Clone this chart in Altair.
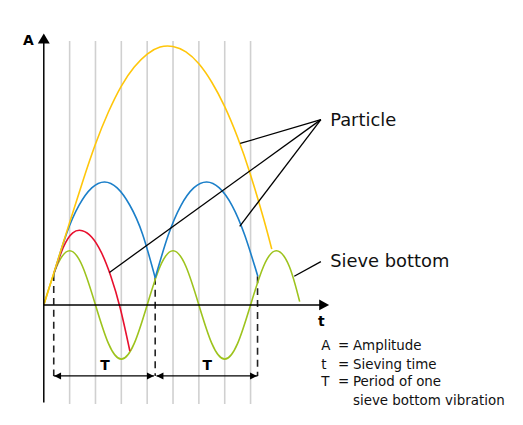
import altair as alt
import pandas as pd

# ---- data (t in quarter-periods of the sieve vibration, A in sieve amplitudes) ----
sieve_t = [0, 0.5, 1, 1.5, 2, 2.5, 3, 3.5, 4, 4.5, 5, 5.5, 6, 6.5, 7, 7.5, 8, 8.5, 9, 9.5, 9.9]
sieve_a = [0, 0.71, 1, 0.71, 0, -0.71, -1, -0.71, 0, 0.71, 1, 0.71, 0, -0.71, -1, -0.71, 0, 0.71, 1, 0.71, 0.06]

red_t = [0.385, 0.753, 1.121, 1.489, 1.858, 2.226, 2.594, 2.963, 3.33]
red_a = [0.57, 1.06, 1.33, 1.37, 1.25, 0.97, 0.53, -0.07, -0.85]

blue1_t = [0.385, 0.876, 1.366, 1.857, 2.348, 2.838, 3.329, 3.819, 4.31]
blue1_a = [0.57, 1.31, 1.84, 2.16, 2.27, 2.16, 1.84, 1.31, 0.50]
blue2_t = [4.31, 4.81, 5.30, 5.80, 6.30, 6.79, 7.29, 7.78, 8.28]
blue2_a = [0.50, 1.28, 1.83, 2.16, 2.27, 2.16, 1.83, 1.28, 0.53]

yellow_t = [0, 0.5, 1, 1.5, 2, 2.5, 3, 3.5, 4, 4.5, 5, 5.5, 6, 6.5, 7, 7.5, 8, 8.5, 8.82]
yellow_a = [0, 0.76, 1.52, 2.27, 2.97, 3.56, 4.04, 4.39, 4.63, 4.76, 4.77, 4.67, 4.45, 4.11,
            3.66, 3.09, 2.40, 1.60, 1.03]

grid_t = [1, 2, 3, 4, 5, 6, 7, 8]
contact_t = [0.385, 4.31, 8.27]
contact_a = [0.57, 0.50, 0.53]

pointer_from = [(10.72, 3.42), (10.72, 3.42), (10.72, 3.42), (10.72, 0.80)]
pointer_to = [(7.60, 2.98), (2.54, 0.60), (7.58, 1.45), (9.69, 0.53)]

labels = ["Particle", "Sieve bottom"]
label_pos = [(11.08, 3.40), (11.08, 0.80)]

legend_sym = ["A", "t", "T"]
legend_txt = ["Amplitude", "Sieving time", "Period of one", "sieve bottom vibration"]
legend_a = [-0.756, -1.105, -1.428, -1.776]

# ---- geometry of the view ----
W, H = 510, 400
PX_T, PX_A = 26.0, 54.5
t_min = -36 / PX_T
t_max = t_min + W / PX_T
a_max = 297.5 / PX_A
a_min = a_max - H / PX_A
X = alt.Scale(domain=[t_min, t_max], nice=False, zero=False)
Y = alt.Scale(domain=[a_min, a_max], nice=False, zero=False)
FONT = "DejaVu Sans"
A_BOT = -1.31  # level of the period arrows


def xenc(f="t"):
    return alt.X(f"{f}:Q", scale=X, axis=None)


def yenc(f="a"):
    return alt.Y(f"{f}:Q", scale=Y, axis=None)


# grid
grid_df = pd.DataFrame({"t": grid_t, "a": [-1.83] * 8, "a2": [4.87] * 8})
grid = alt.Chart(grid_df).mark_rule(color="#d0d0d0", strokeWidth=1.6).encode(
    x=xenc(), y=yenc(), y2="a2:Q")

# dashed contact lines
dash_df = pd.DataFrame({"t": contact_t, "a": contact_a, "a2": [A_BOT] * 3})
dashes = alt.Chart(dash_df).mark_rule(color="#222222", strokeWidth=1.6, strokeDash=[7, 5]).encode(
    x=xenc(), y=yenc(), y2="a2:Q")

# axes
yaxis = alt.Chart(pd.DataFrame({"t": [0], "a": [-1.80], "a2": [4.9]})).mark_rule(
    color="black", strokeWidth=1.5).encode(x=xenc(), y=yenc(), y2="a2:Q")
xaxis = alt.Chart(pd.DataFrame({"t": [0], "t2": [10.9], "a": [0]})).mark_rule(
    color="black", strokeWidth=1.5).encode(x=xenc(), x2="t2:Q", y=yenc())
up_arrow = alt.Chart(pd.DataFrame({"t": [0], "a": [5.01]})).mark_point(
    shape="M0,0L1.2,2L-1.2,2Z", size=100, filled=True, color="black", opacity=1).encode(x=xenc(), y=yenc())
right_arrow = alt.Chart(pd.DataFrame({"t": [11.04], "a": [0]})).mark_point(
    shape="M0,0L-2,-1.07L-2,1.07Z", size=100, filled=True, color="black", opacity=1).encode(x=xenc(), y=yenc())

# period arrows
per_df = pd.DataFrame({"t": [0.385, 4.36], "t2": [4.26, 8.27], "a": [A_BOT, A_BOT]})
per_lines = alt.Chart(per_df).mark_rule(color="black", strokeWidth=1.4).encode(
    x=xenc(), x2="t2:Q", y=yenc())
left_heads = alt.Chart(pd.DataFrame({"t": [0.40, 4.36], "a": [A_BOT, A_BOT]})).mark_point(
    shape="M0,0L2,-1L2,1Z", size=49, filled=True, color="black", opacity=1).encode(x=xenc(), y=yenc())
right_heads = alt.Chart(pd.DataFrame({"t": [4.26, 8.25], "a": [A_BOT, A_BOT]})).mark_point(
    shape="M0,0L-2,-1L-2,1Z", size=49, filled=True, color="black", opacity=1).encode(x=xenc(), y=yenc())


def curve(ts, as_, color, group=None):
    df = pd.DataFrame({"t": ts, "a": as_, "g": group if group else ["0"] * len(ts)})
    return alt.Chart(df).mark_line(color=color, strokeWidth=1.6, interpolate="natural").encode(
        x=xenc(), y=yenc(), detail="g:N", order="t:Q")


sieve = curve(sieve_t, sieve_a, "#9dc31d")
red = curve(red_t, red_a, "#e8102e")
blue = curve(blue1_t + blue2_t, blue1_a + blue2_a, "#1b7fc9",
             ["1"] * len(blue1_t) + ["2"] * len(blue2_t))
yellow = curve(yellow_t, yellow_a, "#ffc60a")

# pointer lines
ptr_df = pd.DataFrame({
    "t": [p[0] for p in pointer_from], "a": [p[1] for p in pointer_from],
    "t2": [p[0] for p in pointer_to], "a2": [p[1] for p in pointer_to]})
pointers = alt.Chart(ptr_df).mark_rule(color="black", strokeWidth=1.3).encode(
    x=xenc(), y=yenc(), x2="t2:Q", y2="a2:Q")

# texts
lab_df = pd.DataFrame({"t": [p[0] for p in label_pos], "a": [p[1] for p in label_pos], "txt": labels})
lab = alt.Chart(lab_df).mark_text(align="left", baseline="middle", font=FONT, fontSize=18,
                                  color="#111111").encode(x=xenc(), y=yenc(), text="txt:N")

bold_df = pd.DataFrame({"t": [-0.60, 10.74, 2.37, 6.32], "a": [4.87, -0.32, -1.12, -1.12],
                        "txt": ["A", "t", "T", "T"]})
bold = alt.Chart(bold_df).mark_text(align="center", baseline="middle", font=FONT, fontSize=14,
                                    fontWeight="bold", color="black").encode(x=xenc(), y=yenc(), text="txt:N")

sym_df = pd.DataFrame({"t": [10.73] * 3, "a": legend_a[:3], "txt": legend_sym})
eq_df = pd.DataFrame({"t": [11.38] * 3, "a": legend_a[:3], "txt": ["="] * 3})
txt_df = pd.DataFrame({"t": [11.96] * 4, "a": legend_a, "txt": legend_txt})
leg_style = dict(align="left", baseline="middle", font=FONT, fontSize=13.5, color="#111111")
leg = (alt.Chart(sym_df).mark_text(**leg_style).encode(x=xenc(), y=yenc(), text="txt:N")
       + alt.Chart(eq_df).mark_text(**leg_style).encode(x=xenc(), y=yenc(), text="txt:N")
       + alt.Chart(txt_df).mark_text(**leg_style).encode(x=xenc(), y=yenc(), text="txt:N"))

chart = alt.layer(
    grid, dashes, sieve, red, blue, yellow, yaxis, xaxis, up_arrow, right_arrow,
    per_lines, left_heads, right_heads, pointers, lab, bold, leg
).properties(
    width=W, height=H, padding=0, autosize=alt.AutoSizeParams(type="none"), background="white"
).configure_view(strokeWidth=0)

chart.save("out.html", embed_options={"renderer": "svg", "actions": False})
